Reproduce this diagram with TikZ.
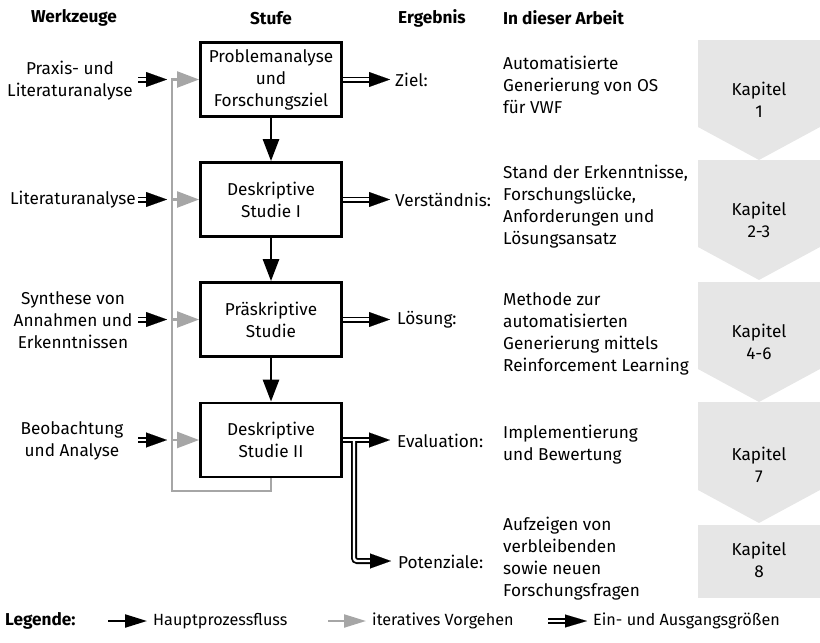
\documentclass[tikz,border=0pt]{standalone}
\usepackage{fontspec}
\setmainfont{Fira Sans}
\usetikzlibrary{arrows.meta,calc}
\definecolor{itgray}{RGB}{166,166,166}
\definecolor{chev}{RGB}{230,230,230}
\newcommand\dblarr[2]{%
  \draw[dbl, shorten >=20pt] (#1) -- (#2);
  \draw[tiponly] ($(#2)+(-21pt,0)$) -- (#2);}
\begin{document}
\begin{tikzpicture}[x=1pt,y=-1pt,
  every node/.style={inner sep=0pt, font=\fontsize{17.2}{22}\selectfont},
  lbl/.style={align=center},
  lft/.style={align=left, anchor=west},
  hdr/.style={font=\fontsize{17.2}{22}\selectfont\bfseries},
  legtxt/.style={anchor=west, font=\fontsize{16.2}{20}\selectfont},
  stage/.style={draw, line width=2.8pt, minimum width=141pt, minimum height=74pt, align=center},
  flow/.style={line width=2.8pt, -{Triangle[length=22pt,width=16pt]}},
  iter/.style={itgray, line width=2.2pt, -{Triangle[length=22pt,width=16pt]}},
  dbl/.style={double=white, double distance=2.4pt, line width=1.8pt},
  tiponly/.style={line width=0.1pt, -{Triangle[length=21pt,width=15pt]}},
  chevron/.style={fill=chev, draw=none},
  kap/.style={align=center}
]
\useasboundingbox (0,0) rectangle (820,643);

% headers
\node[hdr] (hw) at (74,18) {Werkzeuge};
\node[hdr] (hs) at (271,18) {Stufe};
\node[hdr, anchor=west] (he) at (398,18) {Ergebnis};
\node[hdr, anchor=west] (ha) at (503,18) {In dieser Arbeit};

% chevrons
\fill[chevron] (698,40) -- (820,40) -- (820,127) -- (759,160) -- (698,127) -- cycle;
\fill[chevron] (698,160) -- (820,160) -- (820,247) -- (759,280) -- (698,247) -- cycle;
\fill[chevron] (698,282) -- (820,282) -- (820,369) -- (759,402) -- (698,369) -- cycle;
\fill[chevron] (698,402) -- (820,402) -- (820,490) -- (759,523) -- (698,490) -- cycle;
\fill[chevron] (698,525) rectangle (820,598);
\node[kap] (k1) at (759,100) {Kapitel\\1};
\node[kap] (k2) at (759,220) {Kapitel\\2-3};
\node[kap] (k3) at (759,342) {Kapitel\\4-6};
\node[kap] (k4) at (759,465) {Kapitel\\7};
\node[kap] (k5) at (759,560) {Kapitel\\8};

% stages
\node[stage] (s1) at (271,79.5) {Problemanalyse\\und\\Forschungsziel};
\node[stage] (s2) at (271,199.5) {Deskriptive\\Studie I};
\node[stage] (s3) at (271,319.5) {Präskriptive\\Studie};
\node[stage] (s4) at (271,440) {Deskriptive\\Studie II};

% tools
\node[lbl] (t1) at (70,81) {Praxis- und\\Literaturanalyse};
\node[lbl, anchor=east] (t2) at (136,199.5) {Literaturanalyse};
\node[lbl] (t3) at (73,320) {Synthese von\\Annahmen und\\Erkenntnissen};
\node[lbl] (t4) at (72,441) {Beobachtung\\und Analyse};

% input arrows
\coordinate (i1a) at (138,79.5);  \coordinate (i1b) at (167,79.5);
\coordinate (i2a) at (138,199.5); \coordinate (i2b) at (167,199.5);
\coordinate (i3a) at (138,319.5); \coordinate (i3b) at (167,319.5);
\coordinate (i4a) at (138,440);   \coordinate (i4b) at (167,440);
\dblarr{i1a}{i1b}
\dblarr{i2a}{i2b}
\dblarr{i3a}{i3b}
\dblarr{i4a}{i4b}

% iterative loop
\coordinate (gc) at (172,491);
\coordinate (gt) at (172,79.5);
\draw[iter] (s4.south) |- (gc) -- (gt) -- (s1.west);
\draw[iter] (s2.west -| gt) -- (s2.west);
\draw[iter] (s3.west -| gt) -- (s3.west);
\draw[iter] (s4.west -| gt) -- (s4.west);

% main flow
\draw[flow] (s1.south) -- (s2.north);
\draw[flow] (s2.south) -- (s3.north);
\draw[flow] (s3.south) -- (s4.north);

% outputs
\coordinate (o1) at (390,79.5);
\coordinate (o2) at (390,199.5);
\coordinate (o3) at (390,319.5);
\coordinate (o4) at (390,440);
\coordinate (o5) at (391,561);
\coordinate (jn) at (354,440);
\dblarr{s1.east}{o1}
\dblarr{s2.east}{o2}
\dblarr{s3.east}{o3}
% branch with merged double lines
\draw[line width=6pt] (s4.east) -- ($(o4)+(-20pt,0)$);
\draw[line width=6pt, rounded corners=3pt] (jn) |- ($(o5)+(-20pt,0)$);
\draw[white, line width=2.4pt] (s4.east) -- ($(o4)+(-20pt,0)$);
\draw[white, line width=2.4pt, rounded corners=3pt] (jn) |- ($(o5)+(-20pt,0)$);
\draw[tiponly] ($(o4)+(-21pt,0)$) -- (o4);
\draw[tiponly] ($(o5)+(-21pt,0)$) -- (o5);

\node[lft] (e1) at (395,80) {Ziel:};
\node[lft] (e2) at (395,199.5) {Verständnis:};
\node[lft] (e3) at (397,320) {Lösung:};
\node[lft] (e4) at (397,441) {Evaluation:};
\node[lft] (e5) at (398,562) {Potenziale:};

% results
\node[lft] (r1) at (503,85) {Automatisierte\\Generierung von OS\\für VWF};
\node[lft] (r2) at (503,207) {Stand der Erkenntnisse,\\Forschungslücke,\\Anforderungen und\\Lösungsansatz};
\node[lft] (r3) at (503,334) {Methode zur\\automatisierten\\Generierung mittels\\Reinforcement Learning};
\node[lft] (r4) at (503,445) {Implementierung\\und Bewertung};
\node[lft] (r5) at (503,559) {Aufzeigen von\\verbleibenden\\sowie neuen\\Forschungsfragen};

% legend
\node[hdr, anchor=west] (lg) at (5,621) {Legende:};
\coordinate (l1a) at (108,621); \coordinate (l1b) at (147,621);
\coordinate (l2a) at (328,621); \coordinate (l2b) at (366,621);
\coordinate (l3a) at (548,621); \coordinate (l3b) at (587,621);
\draw[line width=2.2pt, -{Triangle[length=22pt,width=13pt]}] (l1a) -- (l1b);
\draw[itgray, line width=2.2pt, -{Triangle[length=22pt,width=13pt]}] (l2a) -- (l2b);
\draw[dbl, shorten >=21pt] (l3a) -- (l3b);
\draw[line width=0.1pt, -{Triangle[length=22pt,width=13pt]}] ($(l3b)+(-22pt,0)$) -- (l3b);
\node[legtxt] (lt1) at (153,621) {Hauptprozessfluss};
\node[legtxt] (lt2) at (372,621) {iteratives Vorgehen};
\node[legtxt] (lt3) at (593,621) {Ein- und Ausgangsgrößen};
\end{tikzpicture}
\end{document}
